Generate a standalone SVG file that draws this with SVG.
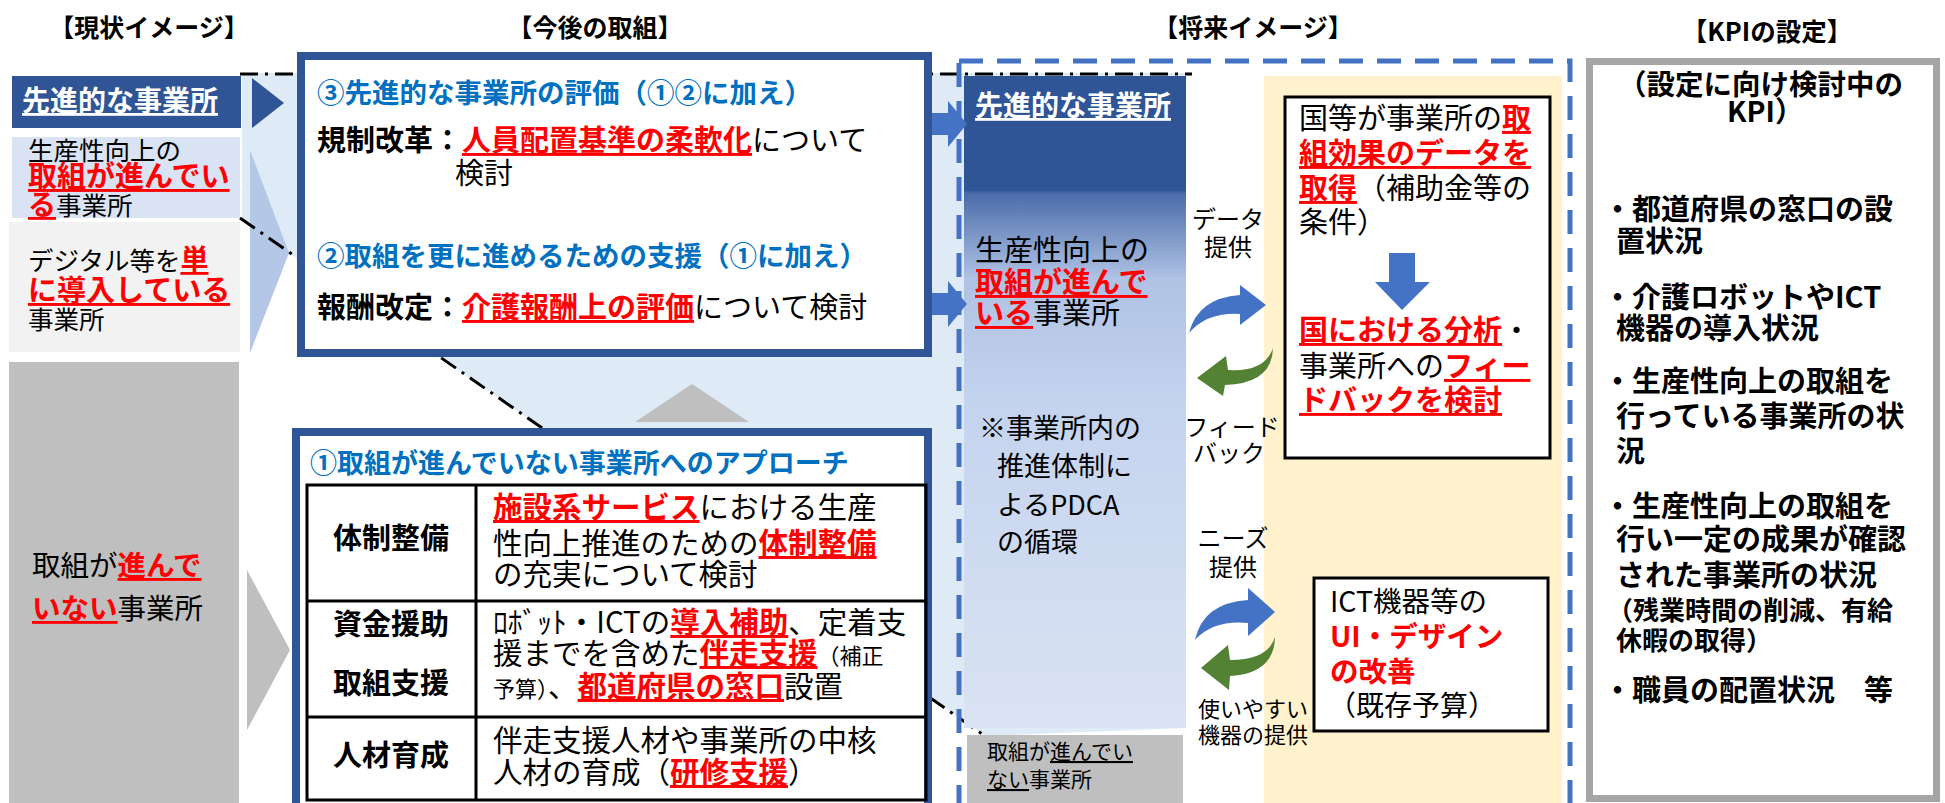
<svg xmlns="http://www.w3.org/2000/svg" width="1945" height="803" viewBox="0 0 1945 803">
<defs>
<style>
text{font-family:"Noto Sans CJK JP","Noto Sans",sans-serif;fill:#000;}
.b{font-weight:700}
.r{fill:#FF0000;font-weight:700}
.u{text-decoration:underline}
.bl{fill:#0070C0;font-weight:700}
.w{fill:#fff;font-weight:700}
.dd{fill:none;stroke:#000;stroke-width:3;stroke-dasharray:18 7 3 7}
.frame{fill:#fff;stroke:#2F5597;stroke-width:8}
.tbl{stroke:#000;stroke-width:3;fill:none}
.wb{fill:#fff;stroke:#000;stroke-width:3}
.ba{fill:#4472C4}
.ga{fill:#548235}
</style>
<linearGradient id="colg" x1="0" y1="0" x2="0" y2="1">
<stop offset="0" stop-color="#2F5597"/>
<stop offset="0.175" stop-color="#2F5597"/>
<stop offset="0.18" stop-color="#4A6CA9"/>
<stop offset="0.31" stop-color="#AFC2E4"/>
<stop offset="0.5" stop-color="#C4D3EE"/>
<stop offset="1" stop-color="#DAE3F3"/>
</linearGradient>
</defs>
<rect width="1945" height="803" fill="#fff"/>

<g id="headers">
<text x="149" y="37" font-size="25" class="b" text-anchor="middle">【現状イメージ】</text>
<text x="595" y="37" font-size="25" class="b" text-anchor="middle">【今後の取組】</text>
<text x="1253" y="37" font-size="25" class="b" text-anchor="middle">【将来イメージ】</text>
<text x="1767" y="41" font-size="25.5" class="b" text-anchor="middle">【KPIの設定】</text>
</g>

<polygon id="zoom-area" points="242,73 1186,73 1186,728 985,736 242,220" fill="#DEEBF7"/>

<g id="cur-advanced">
<rect x="12" y="76" width="229" height="52" fill="#2F5597"/>
<text x="22" y="111" font-size="28" class="w u">先進的な事業所</text>
</g>
<g id="cur-progress">
<rect x="12" y="137" width="228" height="81" fill="#DAE3F3"/>
<text x="28" y="160" font-size="25.5">生産性向上の</text>
<text x="28" y="187" font-size="29" class="r u">取組が進んでい</text>
<text x="28" y="215" font-size="25.5"><tspan class="r u" font-size="28">る</tspan>事業所</text>
</g>
<g id="cur-digital">
<rect x="9" y="222" width="231" height="130" fill="#F2F2F2"/>
<text x="28" y="270" font-size="25.5">デジタル等を<tspan class="r u" font-size="28">単</tspan></text>
<text x="28" y="301" font-size="29" class="r u">に導入している</text>
<text x="28" y="329" font-size="25.5">事業所</text>
</g>
<g id="cur-notprogress">
<rect x="9" y="362" width="230" height="445" fill="#BFBFBF"/>
<text x="32" y="576" font-size="28.5">取組が<tspan class="r u">進んで</tspan></text>
<text x="32" y="619" font-size="28.5"><tspan class="r u">いない</tspan>事業所</text>
</g>

<g id="connectors">
<polygon points="252,78 284,103 252,128" fill="#2F5597"/>
<polygon points="250,150 289,253 250,353" fill="#B4C7E7"/>
<polygon points="247,570 290,650 247,730" fill="#BFBFBF"/>
<line class="dd" x1="240" y1="74" x2="1192" y2="74"/>
<line class="dd" x1="240" y1="218" x2="985" y2="736"/>
</g>

<g id="future-frame">
<rect x="964" y="76" width="222" height="652" fill="url(#colg)"/>
<rect x="967" y="735" width="216" height="75" fill="#BFBFBF"/>
<rect x="1264" y="76" width="298" height="735" fill="#FFF2CC"/>
<rect x="959" y="61" width="611" height="770" fill="none" stroke="#4472C4" stroke-width="5" stroke-dasharray="24 14"/>
</g>

<g id="box-advanced-support">
<rect class="frame" x="301" y="56" width="627" height="297"/>
<text x="317" y="103" font-size="27.5" class="bl">③先進的な事業所の評価（①②に加え）</text>
<text x="317" y="151" font-size="29"><tspan class="b">規制改革：</tspan><tspan class="r u">人員配置基準の柔軟化</tspan>について</text>
<text x="455" y="184" font-size="29">検討</text>
<text x="317" y="266" font-size="27.5" class="bl">②取組を更に進めるための支援（①に加え）</text>
<text x="317" y="318" font-size="29"><tspan class="b">報酬改定：</tspan><tspan class="r u">介護報酬上の評価</tspan>について検討</text>
</g>

<polygon id="up-triangle" points="635,422 692,384 749,422" fill="#BFBFBF"/>

<g id="box-approach">
<rect class="frame" x="296" y="432" width="632" height="390"/>
<text x="310" y="473" font-size="27" class="bl">①取組が進んでいない事業所へのアプローチ</text>
<rect class="tbl" x="307" y="485" width="619" height="315"/>
<line class="tbl" x1="476" y1="485" x2="476" y2="800"/>
<line class="tbl" x1="307" y1="601" x2="926" y2="601"/>
<line class="tbl" x1="307" y1="717" x2="926" y2="717"/>
<text x="391" y="549" font-size="29" class="b" text-anchor="middle">体制整備</text>
<text x="391" y="635" font-size="29" class="b" text-anchor="middle">資金援助</text>
<text x="391" y="694" font-size="29" class="b" text-anchor="middle">取組支援</text>
<text x="391" y="766" font-size="29" class="b" text-anchor="middle">人材育成</text>
<text x="493" y="518" font-size="29.5"><tspan class="r u">施設系サービス</tspan>における生産</text>
<text x="493" y="554" font-size="29.5">性向上推進のための<tspan class="r u">体制整備</tspan></text>
<text x="493" y="585" font-size="29.5">の充実について検討</text>
<text x="493" y="633" font-size="29.5">ﾛﾎﾞｯﾄ・ICTの<tspan class="r u">導入補助</tspan>、定着支</text>
<text x="493" y="664" font-size="29.5">援までを含めた<tspan class="r u">伴走支援</tspan><tspan font-size="22">（補正</tspan></text>
<text x="493" y="697" font-size="29.5"><tspan font-size="22">予算）</tspan>、<tspan class="r u">都道府県の窓口</tspan>設置</text>
<text x="493" y="751" font-size="29.5">伴走支援人材や事業所の中核</text>
<text x="493" y="783" font-size="29.5">人材の育成（<tspan class="r u">研修支援</tspan>）</text>
</g>

<g id="block-arrows">
<polygon class="ba" points="932,113 948,113 948,101 967,124 948,147 948,135 932,135"/>
<polygon class="ba" points="932,293 948,293 948,281 967,304 948,327 948,315 932,315"/>
</g>

<g id="fut-column">
<text x="975" y="116" font-size="28" class="w u">先進的な事業所</text>
<text x="975" y="261" font-size="29">生産性向上の</text>
<text x="975" y="293" font-size="29" class="r u">取組が進んで</text>
<text x="975" y="324" font-size="29"><tspan class="r u">いる</tspan>事業所</text>
<text x="979" y="438" font-size="27">※事業所内の</text>
<text x="997" y="476" font-size="27">推進体制に</text>
<text x="997" y="515" font-size="27">よるPDCA</text>
<text x="997" y="552" font-size="27">の循環</text>
</g>
<g id="fut-notprogress">
<text x="987" y="759" font-size="21">取組が<tspan class="u">進んでい</tspan></text>
<text x="987" y="787" font-size="21"><tspan class="u">ない</tspan>事業所</text>
</g>

<g id="fut-data-box">
<rect class="wb" x="1285" y="97" width="265" height="361"/>
<text x="1299" y="129" font-size="29">国等が事業所の<tspan class="r u">取</tspan></text>
<text x="1299" y="164" font-size="29" class="r u">組効果のデータを</text>
<text x="1299" y="199" font-size="29"><tspan class="r u">取得</tspan>（補助金等の</text>
<text x="1299" y="233" font-size="29">条件）</text>
<polygon class="ba" points="1389,253 1415,253 1415,282 1430,282 1402,310 1375,282 1389,282"/>
<text x="1299" y="341" font-size="29"><tspan class="r u">国における分析</tspan>・</text>
<text x="1299" y="377" font-size="29">事業所への<tspan class="r u">フィー</tspan></text>
<text x="1299" y="411" font-size="29" class="r u">ドバックを検討</text>
</g>

<g id="fut-ui-box">
<rect class="wb" x="1314" y="578" width="234" height="153"/>
<text x="1330" y="612" font-size="28.5">ICT機器等の</text>
<text x="1330" y="647" font-size="28.5" class="r">UI・デザイン</text>
<text x="1330" y="682" font-size="28.5" class="r">の改善</text>
<text x="1328" y="716" font-size="28">（既存予算）</text>
</g>

<g id="flow-arrows">
<path class="ba" d="M1189,333 Q1198,298 1240,295 L1240,285 L1266,305 L1240,325 L1240,314 Q1207,312 1189,333 Z"/>
<path class="ga" d="M1273,348 Q1265,372 1228,370 L1226,356 L1197,378 L1223,396 L1225,385 Q1272,384 1273,348 Z"/>
<path class="ba" d="M1195,640 Q1203,603 1248,600 L1248,588 L1275,612 L1248,636 L1248,623 Q1213,620 1195,640 Z"/>
<path class="ga" d="M1275,637 Q1268,660 1230,660 L1228,645 L1201,668 L1229,690 L1230,676 Q1274,674 1275,637 Z"/>
<text x="1228" y="228" font-size="24" text-anchor="middle">データ</text>
<text x="1228" y="256" font-size="24" text-anchor="middle">提供</text>
<text x="1232" y="436" font-size="24" text-anchor="middle">フィード</text>
<text x="1229" y="462" font-size="24" text-anchor="middle">バック</text>
<text x="1233" y="547" font-size="24" text-anchor="middle">ニーズ</text>
<text x="1233" y="576" font-size="24" text-anchor="middle">提供</text>
<text x="1198" y="717" font-size="22">使いやすい</text>
<text x="1198" y="743" font-size="22">機器の提供</text>
</g>

<g id="kpi-box">
<rect x="1589.5" y="61.5" width="347" height="737" fill="#fff" stroke="#A5A5A5" stroke-width="7"/>
<text x="1618" y="95" font-size="28.5" class="b">（設定に向け検討中の</text>
<text x="1727" y="122" font-size="28.5" class="b">KPI）</text>
<text x="1603" y="220" font-size="29" class="b">・都道府県の窓口の設</text>
<text x="1616" y="252" font-size="29" class="b">置状況</text>
<text x="1603" y="308" font-size="29" class="b">・介護ロボットやICT</text>
<text x="1616" y="339" font-size="29" class="b">機器の導入状況</text>
<text x="1603" y="392" font-size="29" class="b">・生産性向上の取組を</text>
<text x="1616" y="427" font-size="29" class="b">行っている事業所の状</text>
<text x="1616" y="462" font-size="29" class="b">況</text>
<text x="1603" y="517" font-size="29" class="b">・生産性向上の取組を</text>
<text x="1616" y="550" font-size="29" class="b">行い一定の成果が確認</text>
<text x="1616" y="586" font-size="29" class="b">された事業所の状況</text>
<text x="1607" y="620" font-size="26" class="b">（残業時間の削減、有給</text>
<text x="1616" y="650" font-size="26" class="b">休暇の取得）</text>
<text x="1603" y="701" font-size="29" class="b">・職員の配置状況　等</text>
</g>
</svg>
